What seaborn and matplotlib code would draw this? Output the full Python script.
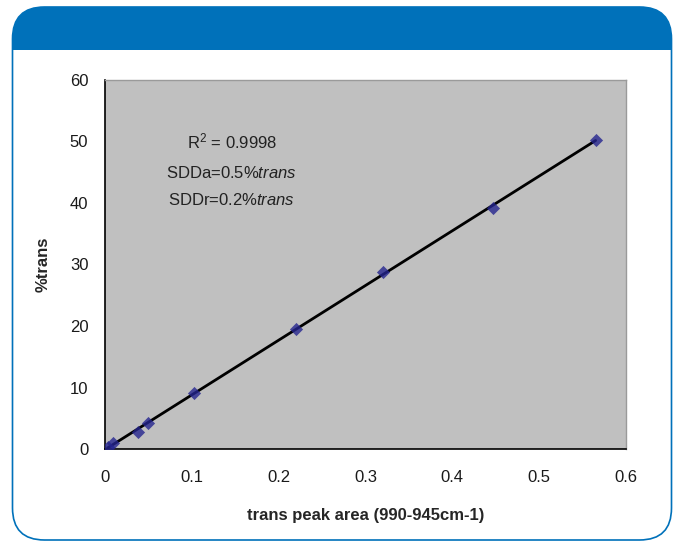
import numpy as np
import pandas as pd
import matplotlib
matplotlib.use("Agg")
import matplotlib.pyplot as plt
import seaborn as sns
from matplotlib.patches import FancyBboxPatch, Rectangle
from matplotlib.transforms import IdentityTransform

# calibration data
peak_area = [0.003, 0.009, 0.038, 0.050, 0.1025, 0.220, 0.320, 0.447, 0.565]
pct_trans = [0.4, 0.9, 2.8, 4.2, 9.1, 19.5, 28.8, 39.2, 50.3]
x_ticks = [0, 0.1, 0.2, 0.3, 0.4, 0.5, 0.6]
y_ticks = [0, 10, 20, 30, 40, 50, 60]

df = pd.DataFrame({"area": peak_area, "trans": pct_trans})

sns.set_style("white")
plt.rcParams["font.family"] = ["Liberation Sans", "DejaVu Sans"]
plt.rcParams["mathtext.fontset"] = "custom"
plt.rcParams["mathtext.rm"] = "Liberation Sans"
plt.rcParams["mathtext.it"] = "Liberation Sans:italic"

W, H = 683, 546
fig = plt.figure(figsize=(W / 100, H / 100), dpi=100)
blue = "#0071BA"

# --- frame with blue header (behind the axes) ---
frame = FancyBboxPatch((12.5, 6), 659, 533, boxstyle="round,pad=0,rounding_size=32",
                       facecolor="white", edgecolor=blue, linewidth=1.2,
                       transform=IdentityTransform(), zorder=-3)
fig.patches.append(frame)
header = Rectangle((10, H - 50), 665, 45, facecolor=blue, edgecolor="none",
                   transform=IdentityTransform(), zorder=-2)
header.set_clip_path(frame)
fig.patches.append(header)

# --- plot area ---
ax = fig.add_axes([105 / W, (H - 449) / H, 521 / W, 369 / H])
ax.set_zorder(1)
ax.set_facecolor("#C0C0C0")

sns.regplot(data=df, x="area", y="trans", ax=ax, ci=None, marker="D",
            scatter_kws=dict(s=45, color="#25258F", zorder=3, linewidths=0),
            line_kws=dict(color="black", lw=2, zorder=2))

ax.set_xlim(0, 0.6)
ax.set_ylim(0, 60)
ax.set_xticks(x_ticks)
ax.set_xticklabels([f"{t:g}" for t in x_ticks])
ax.set_yticks(y_ticks)
ax.tick_params(axis="both", direction="out", length=5, width=1, colors="black",
               labelsize=12, pad=7)
ax.tick_params(axis="x", pad=10)
for lab in ax.get_xticklabels() + ax.get_yticklabels():
    lab.set_color("#1a1a1a")

for side in ["left", "bottom"]:
    ax.spines[side].set_color("black")
    ax.spines[side].set_linewidth(1.2)
for side in ["top", "right"]:
    ax.spines[side].set_color("#9a9a9a")
    ax.spines[side].set_linewidth(1)

ax.set_xlabel("trans peak area (990-945cm-1)", fontsize=12, fontweight="bold", labelpad=17)
ax.set_ylabel("%trans", fontsize=12, fontweight="bold", labelpad=14)

# annotation
ax.text(0.146, 50.0, r"R$^{2}$ = 0.9998", ha="center", va="center", fontsize=12, color="#222222")
ax.text(0.146, 44.9, r"SDDa=0.5%$\mathit{trans}$", ha="center", va="center", fontsize=12, color="#222222")
ax.text(0.146, 40.5, r"SDDr=0.2%$\mathit{trans}$", ha="center", va="center", fontsize=12, color="#222222")

fig.savefig("out.png", dpi=100)
